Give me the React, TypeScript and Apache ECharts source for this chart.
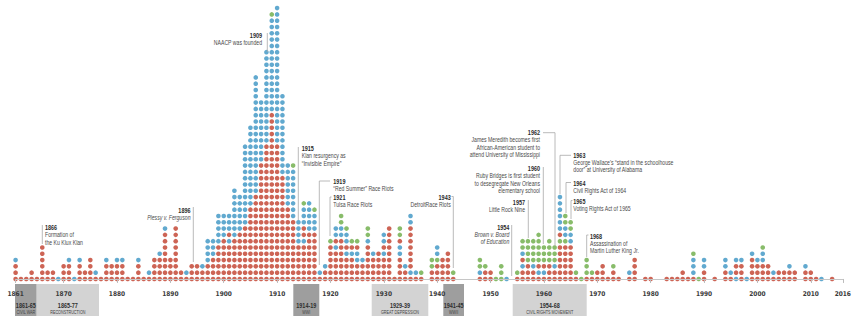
import React, { useEffect, useRef } from "react";
import * as echarts from "echarts";

// ---- DATA ----
const FIRST_YEAR = 1861;
const LAST_YEAR = 2016;

// Dot stacks per year, bottom -> top. r = red, b = blue, g = green; a number repeats the colour.
const stacks1860s = ["3rb", "r", "r", "2r", "r", "6r", "2r", "2r", "b"]; // 1861-1869
const stacks1870s = ["3r", "3rb", "b", "3rb", "2r", "4r", "rb", "r", "3rb", "3r"];
const stacks1880s = ["3rb", "3rb", "r", "r", "3rb", "r", "rb", "4r", "4rb", "8rb"];
const stacks1890s = ["4r", "9r", "2r", "rb", "3r", "3r", "2rb", "3r4b", "4r3b", "6r5b"];
const stacks1900s = ["7r4b", "6rbr3b", "7r8b", "8r6b", "9r13b", "12r13b", "14r19b", "19r10b", "22r15b", "27r15bg"];
const stacks1910s = ["22r22b", "17r13b", "12r7b", "10r8bg", "6r4b", "6rb2r3bg", "8r5b", "8r3bg", "rb", "2rb"];
const stacks1920s = ["6rg", "5rbr2b", "7r2b2g", "4rbr2bg", "4rbrg", "3r2brg", "3rb", "6rb2g", "4rb", "5r"];
const stacks1930s = ["4rbr2b", "9r", "r", "4r2br2g", "2rb", "rb7r2b", "rb", "rg", "", "2r2g"];
const stacks1940s = ["3rg2b", "4r", "5r", "rg", "", "", "", "", "rb2g", "2rg"];
const stacks1950s = ["2r", "g", "3g", "b", "", "rg", "2rbrb2g", "3r4g", "2rb4g", "rbr5g"];
const stacks1960s = ["rbr3g", "3r4g", "2rb3g", "6rgr6b", "6rg2b2g", "6r2b2g", "rg", "g", "r3g", "rg"];
const stacks1970s = ["2r", "3r", "r", "2rg", "r", "", "rb", "4r", "", "r"];
const stacks1980s = ["r", "", "", "r", "r", "r", "2r", "r", "r3bg", "g"];
const stacks1990s = ["2r2b", "", "r", "", "2r2b", "rb", "b2rb", "3rb", "b", "4rb"];
const stacks2000s = ["3rb", "3r2bg", "3r", "rb", "2r", "2r", "2rb", "2r", "", "2rb"];
const stacks2010s = ["2r", "r", "b", "", "r", "", ""]; // 2010-2016

const axisYears = [1861, 1870, 1880, 1890, 1900, 1910, 1920, 1930, 1940, 1950, 1960, 1970, 1980, 1990, 2000, 2010, 2016];

const eraPeriods = ["1861-65", "1865-77", "1914-19", "1929-39", "1941-45", "1954-68"];
const eraNames = ["CIVIL WAR", "RECONSTRUCTION", "WWI", "GREAT DEPRESSION", "WWII", "CIVIL RIGHTS MOVEMENT"];

const eventYears = ["1866", "1896", "1909", "1915", "1919", "1921", "1943", "1954", "1957", "1960", "1962", "1963", "1964", "1965", "1968"];
const eventTexts = [
  ["Formation of", "the Ku Klux Klan"],
  ["Plessy v. Ferguson"],
  ["NAACP was founded"],
  ["Klan resurgency as", "\u201cInvisible Empire\u201d"],
  ["\u201cRed Summer\u201d Race Riots"],
  ["Tulsa Race Riots"],
  ["DetroitRace Riots"],
  ["Brown v. Board", "of Education"],
  ["Little Rock Nine"],
  ["Ruby Bridges is first student", "to desegregate New Orleans", "elementary school"],
  ["James Meredith becomes first", "African-American student to", "attend University of Mississippi"],
  ["George Wallace's \u201cstand in the schoolhouse", "door\u201d at University of Alabama"],
  ["Civil Rights Act of 1964"],
  ["Voting Rights Act of 1965"],
  ["Assassination of", "Martin Luther King Jr."],
];
const italicEvents = ["1896", "1954"];

// ---- LAYOUT / STYLE ----
const COLORS: Record<string, string> = { r: "#c03d2b", b: "#3a94c3", g: "#6aab45" };
const FONT = "'Liberation Sans', Arial, Roboto, sans-serif";
const SQUEEZE = 0.78;

const eraLayout = [
  { x0: 15, x1: 36.7, fill: "#9e9e9e" },
  { x0: 36.7, x1: 99, fill: "#d3d3d3" },
  { x0: 293.3, x1: 319.3, fill: "#9e9e9e" },
  { x0: 371.7, x1: 428.3, fill: "#d3d3d3" },
  { x0: 443.3, x1: 464, fill: "#9e9e9e" },
  { x0: 512.7, x1: 586.7, fill: "#d3d3d3" },
];

const eventLayout: { tx: number; ty: number; align: string; leader: number[][] }[] = [
  { tx: 45, ty: 227.5, align: "left", leader: [[42.3, 225], [42.3, 244]] },
  { tx: 190.5, ty: 210.5, align: "right", leader: [[193.3, 207], [193.3, 262]] },
  { tx: 262, ty: 35.3, align: "right", leader: [[267.3, 33], [267.3, 52]] },
  { tx: 301.7, ty: 148.7, align: "left", leader: [[298.3, 147], [298.3, 220]] },
  { tx: 333.3, ty: 181, align: "left", leader: [[330, 181], [319.3, 181], [319.3, 265]] },
  { tx: 333.3, ty: 197.5, align: "left", leader: [[331.5, 197], [330, 197], [330, 236]] },
  { tx: 450.7, ty: 197.5, align: "right", leader: [[451.5, 196.5], [453.3, 196.5], [453.3, 268]] },
  { tx: 509.3, ty: 227, align: "right", leader: [[511.7, 225], [511.7, 276]] },
  { tx: 525, ty: 202, align: "right", leader: [[528.3, 200], [528.3, 238]] },
  { tx: 540, ty: 168.7, align: "right", leader: [[543.3, 167], [543.3, 244]] },
  { tx: 540, ty: 132.7, align: "right", leader: [[543, 132.7], [555, 132.7], [555, 246]] },
  { tx: 573.3, ty: 155.3, align: "left", leader: [[571, 155.3], [560, 155.3], [560, 194]] },
  { tx: 573.3, ty: 183, align: "left", leader: [[571, 182.5], [566, 182.5], [566, 213]] },
  { tx: 573.3, ty: 201, align: "left", leader: [[572.5, 200.5], [571, 200.5], [571, 219]] },
  { tx: 590, ty: 236.3, align: "left", leader: [[588.5, 235], [586.7, 235], [586.7, 257]] },
];

function buildPoints() {
  const all = ([] as string[]).concat(
    stacks1860s, stacks1870s, stacks1880s, stacks1890s, stacks1900s, stacks1910s,
    stacks1920s, stacks1930s, stacks1940s, stacks1950s, stacks1960s, stacks1970s,
    stacks1980s, stacks1990s, stacks2000s, stacks2010s
  );
  const pts: Record<string, number[][]> = { r: [], b: [], g: [] };
  all.forEach((s, i) => {
    const year = FIRST_YEAR + i;
    let row = 0;
    const re = /(\d*)([rbg])/g;
    let m: RegExpExecArray | null;
    while ((m = re.exec(s)) !== null) {
      const n = m[1] ? parseInt(m[1], 10) : 1;
      for (let k = 0; k < n; k++) pts[m[2]].push([year, row++]);
    }
  });
  return pts;
}

function txt(x: number, y: number, text: string, size: number, weight: string, fill: string, align: string, italic = false) {
  return {
    type: "text",
    x,
    y,
    scaleX: SQUEEZE,
    z: 20,
    silent: true,
    style: {
      text,
      fill,
      fontSize: size,
      fontWeight: weight,
      fontStyle: italic ? "italic" : "normal",
      fontFamily: FONT,
      textAlign: align,
      align,
      textVerticalAlign: "middle",
      verticalAlign: "middle",
    },
  };
}

export default function App() {
  const ref = useRef<HTMLDivElement>(null);
  useEffect(() => {
    if (!ref.current) return;
    const chart = echarts.init(ref.current, undefined, { renderer: "svg" });
    const pts = buildPoints();

    const graphics: any[] = [];
    eraLayout.forEach((e, i) => {
      graphics.push({
        type: "rect",
        z: 0,
        silent: true,
        shape: { x: e.x0, y: 284, width: e.x1 - e.x0, height: 32 },
        style: { fill: e.fill },
      });
      const cx = (e.x0 + e.x1) / 2;
      graphics.push(txt(cx, 305, eraPeriods[i], 7, "bold", "#2e2e2e", "center"));
      graphics.push(txt(cx, 312, eraNames[i], 4.8, "normal", "#444", "center"));
    });
    eventLayout.forEach((l, i) => {
      graphics.push({
        type: "polyline",
        z: 15,
        silent: true,
        shape: { points: l.leader },
        style: { stroke: "#a8a8a8", lineWidth: 0.8, fill: null },
      });
      graphics.push(txt(l.tx, l.ty, eventYears[i], 7, "bold", "#2a2a2a", l.align));
      const italic = italicEvents.includes(eventYears[i]);
      eventTexts[i].forEach((line, j) => {
        graphics.push(txt(l.tx, l.ty + 7.5 + j * 7.3, line, 6.6, "normal", "#4a4a4a", l.align, italic));
      });
    });

    chart.setOption({
      animation: false,
      backgroundColor: "#ffffff",
      grid: { left: 15.6, right: 20.2, top: 1.8, bottom: 45, containLabel: false },
      xAxis: {
        type: "value",
        min: FIRST_YEAR,
        max: LAST_YEAR,
        z: 10,
        axisLine: { show: true, lineStyle: { color: "#c6c6c6", width: 1 } },
        axisTick: { show: true, customValues: axisYears, length: 4, lineStyle: { color: "#bcbcbc", width: 1 } },
        axisLabel: {
          customValues: axisYears,
          margin: 6,
          fontSize: 6.5,
          fontWeight: "bold",
          color: "#3a3a3a",
          fontFamily: "'DejaVu Sans Condensed', 'Liberation Sans', sans-serif",
          formatter: (v: number) => String(v),
        },
        splitLine: { show: false },
      },
      yAxis: { type: "value", min: -0.8, max: 44, show: false },
      series: ["r", "b", "g"].map((k) => ({
        type: "scatter",
        name: k,
        data: pts[k],
        symbol: "circle",
        symbolSize: 4.6,
        silent: true,
        itemStyle: { color: COLORS[k] },
      })),
      graphic: { elements: graphics },
    });
    return () => chart.dispose();
  }, []);
  return (
    <div
      ref={ref}
      style={{ position: "fixed", left: 0, top: 0, width: 863, height: 329, background: "#fff" }}
    />
  );
}
